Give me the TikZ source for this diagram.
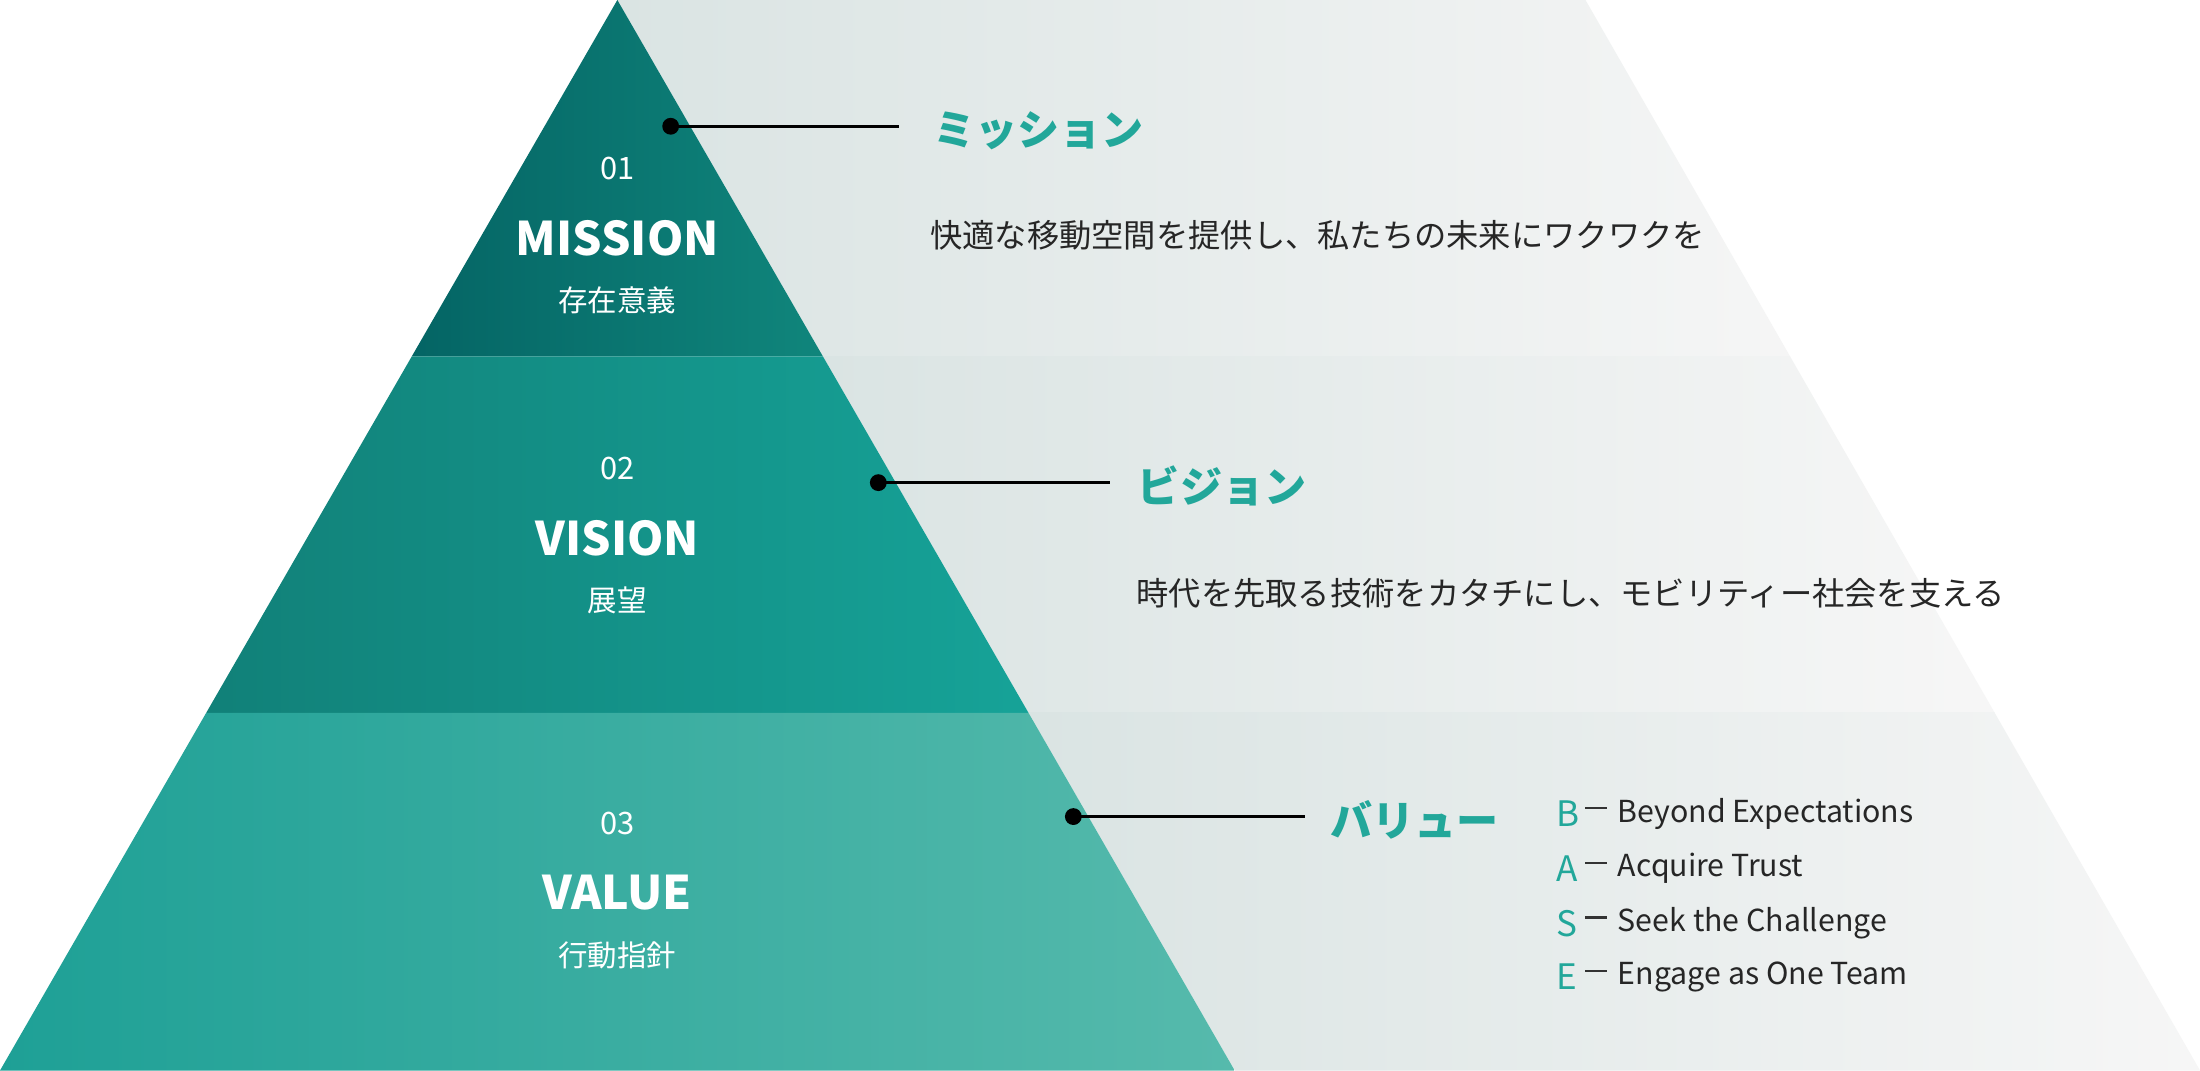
\documentclass[tikz,border=0pt]{standalone}
\usepackage{fontspec}
\setmainfont{Noto Sans CJK JP}
\definecolor{teal0}{HTML}{22A79A}
\definecolor{gA}{RGB}{218,228,227}
\definecolor{gB}{RGB}{246,246,246}
\definecolor{p1a}{RGB}{4,100,100}
\definecolor{p1b}{RGB}{16,134,124}
\definecolor{p2a}{RGB}{17,128,120}
\definecolor{p2b}{RGB}{22,163,152}
\definecolor{p3a}{RGB}{30,160,150}
\definecolor{p3b}{RGB}{86,186,172}
\begin{document}
\begin{tikzpicture}[x=0.5pt,y=-0.5pt,
  dot/.style={circle,fill=black,inner sep=0pt,minimum size=6pt},
  lead/.style={line width=1pt},
  num/.style={text=white,font=\fontsize{11}{12}\selectfont},
  title/.style={text=white,font=\fontsize{16.5}{18}\selectfont\bfseries},
  sub/.style={text=white,font=\fontsize{10.5}{12}\selectfont},
  head/.style={anchor=west,text=teal0,font=\fontsize{15}{16}\selectfont\bfseries},
  body/.style={anchor=west,text=black!85,font=\fontsize{11.5}{13}\selectfont},
  letter/.style={anchor=west,text=teal0,font=\fontsize{12.5}{14}\selectfont},
  item/.style={anchor=west,text=black!85,font=\fontsize{10.8}{12}\selectfont}]
\useasboundingbox (0,0) rectangle (1568,763);
\fill[white] (0,0) rectangle (1568,763);
% gray bands
\begin{scope}
\clip (440,0) -- (1130,0) -- (1568,763) -- (880,763) -- cycle;
\shade[left color=gA, right color=gB] (440,0) rectangle (1300,254);
\fill[gB] (1300,0) rectangle (1568,254);
\shade[left color=gA, right color=gB] (586,254) rectangle (1400,508);
\fill[gB] (1400,254) rectangle (1568,508);
\shade[left color=gA, right color=gB] (733,508) rectangle (1568,763);
\end{scope}
% pyramid bands
\begin{scope}
\clip (440,0) -- (586.5,254) -- (293.5,254) -- cycle;
\shade[shading angle=-60, left color=p1a, right color=p1b] (290,0) rectangle (590,254);
\end{scope}
\begin{scope}
\clip (293.5,254) -- (586.5,254) -- (733,508) -- (147,508) -- cycle;
\shade[shading angle=-60, left color=p2a, right color=p2b] (140,254) rectangle (740,508);
\end{scope}
\begin{scope}
\clip (147,508) -- (733,508) -- (880,763) -- (0,763) -- cycle;
\shade[shading angle=-60, left color=p3a, right color=p3b] (0,508) rectangle (880,763);
\end{scope}
% left labels
\node[num] (n1) at (440,120) {01};
\node[title] (t1) at (440,170) {MISSION};
\node[sub] (s1) at (440,214) {存在意義};
\node[num] (n2) at (440,334) {02};
\node[title] (t2) at (440,384) {VISION};
\node[sub] (s2) at (440,428) {展望};
\node[num] (n3) at (440,587) {03};
\node[title] (t3) at (440,636) {VALUE};
\node[sub] (s3) at (440,681) {行動指針};
% leaders
\node[dot] (d1) at (478,90) {};
\coordinate (e1) at (641,90);
\draw[lead] (d1.center) -- (e1);
\node[dot] (d2) at (626,344) {};
\coordinate (e2) at (791,344);
\draw[lead] (d2.center) -- (e2);
\node[dot] (d3) at (765,582) {};
\coordinate (e3) at (930,582);
\draw[lead] (d3.center) -- (e3);
% headings
\node[head] (h1) at (658,93) {ミッション};
\node[head] (h2) at (804,346) {ビジョン};
\node[head] (h3) at (941,584) {バリュー};
\node[body] (b1) at (656,168) {快適な移動空間を提供し、私たちの未来にワクワクを};
\node[body] (b2) at (803,423) {時代を先取る技術をカタチにし、モビリティー社会を支える};
% values
\foreach \L/\T/\y [count=\i] in {B/Beyond Expectations/580,A/Acquire Trust/619,S/Seek the Challenge/658,E/Engage as One Team/696}{
  \node[letter] (l\i) at (1102,\y) {\L};
  \draw[line width=0.8pt,black!80] (1130,\y-4) -- (1145,\y-4);
  \node[item] (v\i) at (1146,\y) {\T};
}
\end{tikzpicture}
\end{document}
